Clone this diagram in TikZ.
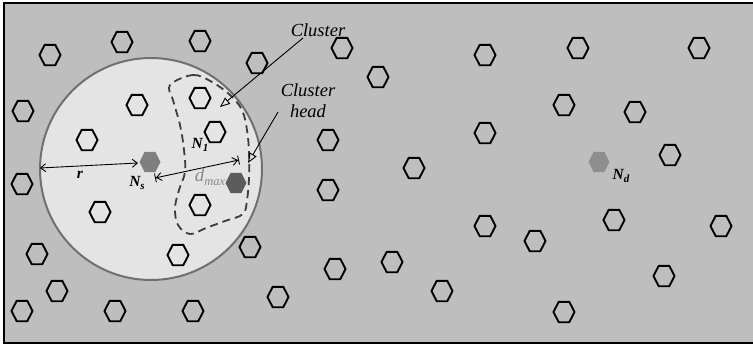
\documentclass[tikz,border=0pt]{standalone}
\usepackage{fontspec}
\setmainfont{Liberation Serif}
\usetikzlibrary{arrows.meta}
\definecolor{bggray}{HTML}{BEBEBE}
\definecolor{circfill}{HTML}{E4E4E4}
\definecolor{circline}{HTML}{707070}
\definecolor{nsgray}{HTML}{7F7F7F}
\definecolor{chgray}{HTML}{5C5C5C}
\definecolor{ndgray}{HTML}{8E8E8E}
\definecolor{dashgray}{HTML}{3C3C3C}
\definecolor{dmaxgray}{HTML}{8A8A8A}
\newcommand{\lowsub}[2][11]{\raisebox{-0.5ex}{\fontsize{#1}{#1}\selectfont #2}}
\begin{document}
\begin{tikzpicture}[x=1pt,y=-1pt,
  hexa/.pic={\path[pic actions] (-10.5,0)--(-5.3,-10.2)--(5.3,-10.2)--(10.5,0)--(5.3,10.2)--(-5.3,10.2)--cycle;},
  hexline/.style={draw=black, line width=1.9pt, line join=miter},
  thinarrow/.style={draw=black, line width=0.9pt},
  lbl/.style={font=\fontsize{18.5}{20}\selectfont\itshape, inner sep=0pt, align=center},
  nlbl/.style={font=\fontsize{15.5}{17}\selectfont\bfseries\itshape, inner sep=0pt}
]
\useasboundingbox (0,0) rectangle (753,348);
\fill[white] (0,0) rectangle (753,348);
\fill[bggray] (4,3) rectangle (753,343);
\draw[line width=2pt] (753,3) -- (4,3) -- (4,343) -- (753,343);

% sensing circle
\draw[draw=circline, line width=2pt, fill=circfill] (151,169) circle[radius=111];

% ordinary nodes
\foreach \hx/\hy in {50/55,122/42,200/41,257/63,342/48,378/77,485/55,578/48,699/48,
  23/111,137/105,200/98,87/140,215/132,328/140,485/133,564/105,635/112,670/155,414/168,
  22/184,328/190,100/212,200/205,614/220,721/226,485/226,535/241,
  37/254,178/255,250/247,335/269,392/262,57/291,22/311,115/311,193/311,278/297,442/291,564/312,664/276}
  \pic[hexline] at (\hx,\hy) {hexa};

% cluster boundary
\draw[dashgray, line width=1.8pt, dash pattern=on 8pt off 5pt]
  plot[smooth cycle, tension=0.6] coordinates {(170,85) (193,75) (212,82) (230,95) (242,110) (247,130) (249,152) (249,178) (247,200) (243,214) (225,221) (206,228) (190,234) (178,225) (175,208) (179,190) (185,172) (184,150) (180,125) (173,100)};

% special nodes
\pic[fill=nsgray] at (150,162) {hexa};
\pic[fill=chgray] at (236,183) {hexa};
\pic[fill=ndgray] at (599,162) {hexa};
\coordinate (Ns) at (150,162);
\coordinate (CH) at (236,183);
\coordinate (Nd) at (599,162);

% radius arrow
\coordinate (rl) at (40,168);
\coordinate (rr) at (138,163);
\draw[thinarrow, {Straight Barb[length=5pt,width=8pt]}-{Straight Barb[length=5pt,width=8pt]}] (rl) -- (rr);
% dmax arrow
\coordinate (dl) at (155,178);
\coordinate (dr) at (239,160);
\draw[thinarrow, {Bar[width=9pt]Straight Barb[length=5pt,width=8pt]}-{Straight Barb[length=5pt,width=8pt]Bar[width=9pt]}] (dl) -- (dr);

% labels
\node[nlbl] (rlab) at (80,175) {r};
\node[nlbl] (nslab) at (137,183) {N\lowsub{s}};
\node[nlbl] (n1lab) at (200,145) {N\lowsub{1}};
\node[inner sep=0pt, text=dmaxgray, font=\fontsize{19}{20}\selectfont\itshape] (dlab) at (210,177) {d\lowsub[12.5]{max}};
\node[nlbl] (ndlab) at (621,176) {N\lowsub{d}};
\node[lbl] (cl) at (318,30) {Cluster};
\node[lbl] (chl) at (308,101) {Cluster\\[1pt] head};

% pointer arrows
\coordinate (ca) at (303,38);
\coordinate (cb) at (220,107);
\draw[thinarrow, -{Triangle[open,length=10pt,width=8pt]}] (ca) -- (cb);
\coordinate (ha) at (278,112);
\coordinate (hb) at (248,163);
\draw[thinarrow, -{Triangle[open,length=10pt,width=8pt]}] (ha) -- (hb);
\end{tikzpicture}
\end{document}
